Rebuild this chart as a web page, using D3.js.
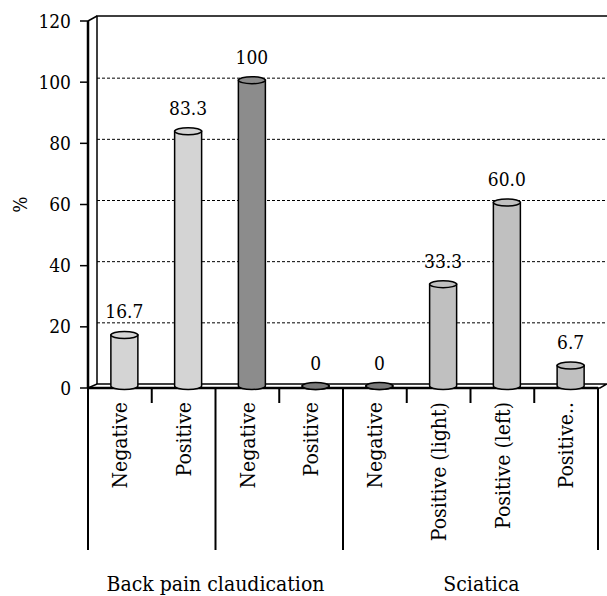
<!DOCTYPE html>
<html>
<head>
<meta charset="utf-8">
<script src="https://cdn.jsdelivr.net/npm/d3@7"></script>
<style>
  body { margin: 0; background: #fff; }
  svg text { font-family: "DejaVu Serif Condensed", "DejaVu Serif"; font-stretch: condensed; }
</style>
</head>
<body>
<script>
// data
var categories = ['Negative','Positive','Negative','Positive','Negative','Positive (light)','Positive (left)','Positive..'];
var values = [16.7, 83.3, 100, 0, 0, 33.3, 60.0, 6.7];
var valueLabels = ['16.7','83.3','100','0','0','33.3','60.0','6.7'];
var seriesOf = [0, 0, 1, 1, 2, 2, 2, 2];
var seriesColors = ['#d4d4d4', '#8c8c8c', '#c0c0c0'];
var groups = ['Back pain claudication', 'Sciatica'];
var groupSpans = [[0, 4], [4, 8]];
var dividers = [0, 2, 4, 8];   // long lines below the axis
var yTicks = [0, 20, 40, 60, 80, 100, 120];

var W = 607, H = 596;
var svg = d3.select('body').append('svg').attr('width', W).attr('height', H);

var x0 = 88, x1 = 598, yBase = 388, yTopAxis = 21;
var dx = 9, dy = -4;   // depth of the 3d box

var x = d3.scaleBand().domain(d3.range(categories.length)).range([x0, x1]).padding(0);
var y = d3.scaleLinear().domain([0, 120]).range([yBase, yTopAxis]);

// back wall
svg.append('path')
  .attr('d', 'M' + (x0 + dx) + ',' + (yBase + dy) + 'V' + (yTopAxis + dy - 1) + 'H' + (W + 5))
  .attr('fill', 'none').attr('stroke', '#000').attr('stroke-width', 1.5);
svg.append('line')
  .attr('x1', x0).attr('y1', yTopAxis).attr('x2', x0 + dx).attr('y2', yTopAxis + dy - 1)
  .attr('stroke', '#000').attr('stroke-width', 1.5);

// grid lines on the back wall
svg.selectAll('line.grid')
  .data(yTicks.filter(function(d) { return d > 0 && d < 120; }))
  .enter().append('line')
    .attr('class', 'grid')
    .attr('x1', x0 + dx).attr('x2', W)
    .attr('y1', function(d) { return y(d) + dy; })
    .attr('y2', function(d) { return y(d) + dy; })
    .attr('stroke', '#000').attr('stroke-width', 1)
    .attr('stroke-dasharray', '3,2');

// floor
svg.append('path')
  .attr('d', 'M' + x0 + ',' + yBase + 'L' + (x0 + dx) + ',' + (yBase + dy) + 'H' + (W + 5) + 'M' + x0 + ',' + yBase + 'H' + (x1 + 2) + 'L' + (x1 + dx) + ',' + (yBase + dy))
  .attr('fill', 'none').attr('stroke', '#000').attr('stroke-width', 1.5);
svg.append('line')
  .attr('x1', x0).attr('x2', x1).attr('y1', yBase).attr('y2', yBase)
  .attr('stroke', '#000').attr('stroke-width', 2.5);

// y axis
svg.append('line')
  .attr('x1', x0).attr('x2', x0).attr('y1', yTopAxis).attr('y2', yBase)
  .attr('stroke', '#000').attr('stroke-width', 2.5);
svg.selectAll('line.ytick')
  .data(yTicks)
  .enter().append('line')
    .attr('class', 'ytick')
    .attr('x1', x0 - 8).attr('x2', x0)
    .attr('y1', function(d) { return y(d); })
    .attr('y2', function(d) { return y(d); })
    .attr('stroke', '#000').attr('stroke-width', 1.5);
svg.selectAll('text.ylab')
  .data(yTicks)
  .enter().append('text')
    .attr('class', 'ylab')
    .attr('x', x0 - 17)
    .attr('y', function(d) { return y(d); })
    .attr('dy', '0.35em')
    .attr('text-anchor', 'end')
    .style('font-size', '19px')
    .text(function(d) { return d; });
svg.append('text')
  .attr('transform', 'translate(27,' + y(60) + ') rotate(-90)')
  .attr('text-anchor', 'middle')
  .style('font-size', '19px')
  .text('%');

// cylinders
var r = 13.5, ry = 3.5;
var mid = yBase + dy / 2;
function cx(i) { return x(i) + x.bandwidth() / 2 + dx / 2; }
function yv(v) { return mid - (yBase - y(v)); }

var bars = svg.selectAll('g.bar')
  .data(values)
  .enter().append('g')
    .attr('class', 'bar');
bars.append('path')
  .attr('d', function(d, i) {
    var c = cx(i), t = yv(d);
    return 'M' + (c - r) + ',' + t + 'V' + mid +
      'A' + r + ',' + ry + ' 0 0 0 ' + (c + r) + ',' + mid +
      'V' + t + 'Z';
  })
  .attr('fill', function(d, i) { return seriesColors[seriesOf[i]]; })
  .attr('stroke', '#000').attr('stroke-width', 1.5);
bars.append('ellipse')
  .attr('cx', function(d, i) { return cx(i); })
  .attr('cy', function(d) { return yv(d); })
  .attr('rx', r).attr('ry', ry)
  .attr('fill', function(d, i) { return d === 0 ? '#7a7a7a' : seriesColors[seriesOf[i]]; })
  .attr('stroke', '#000').attr('stroke-width', 1.5);

// value labels
svg.selectAll('text.val')
  .data(values)
  .enter().append('text')
    .attr('class', 'val')
    .attr('x', function(d, i) { return cx(i); })
    .attr('y', function(d) { return yv(d) - ry - 13; })
    .attr('text-anchor', 'middle')
    .style('font-size', '19px')
    .text(function(d, i) { return valueLabels[i]; });

// category axis below
svg.selectAll('line.div')
  .data(d3.range(categories.length + 1))
  .enter().append('line')
    .attr('class', 'div')
    .attr('x1', function(d) { return d === categories.length ? x1 : x(d); })
    .attr('x2', function(d) { return d === categories.length ? x1 : x(d); })
    .attr('y1', yBase)
    .attr('y2', function(d) { return dividers.indexOf(d) >= 0 ? 550 : 403; })
    .attr('stroke', '#000').attr('stroke-width', 2);

svg.selectAll('text.cat')
  .data(categories)
  .enter().append('text')
    .attr('class', 'cat')
    .attr('transform', function(d, i) { return 'translate(' + (x(i) + x.bandwidth() / 2) + ',402) rotate(-90)'; })
    .attr('dy', '0.35em')
    .attr('text-anchor', 'end')
    .style('font-size', '21px')
    .text(function(d) { return d; });

svg.selectAll('text.group')
  .data(groups)
  .enter().append('text')
    .attr('class', 'group')
    .attr('x', function(d, i) {
      var s = groupSpans[i];
      var a = x(s[0]), b = s[1] === categories.length ? x1 : x(s[1]);
      return (a + b) / 2 + (i === 1 ? 11 : 0);
    })
    .attr('y', 591)
    .attr('text-anchor', 'middle')
    .style('font-size', '21px')
    .text(function(d) { return d; });
</script>
</body>
</html>
